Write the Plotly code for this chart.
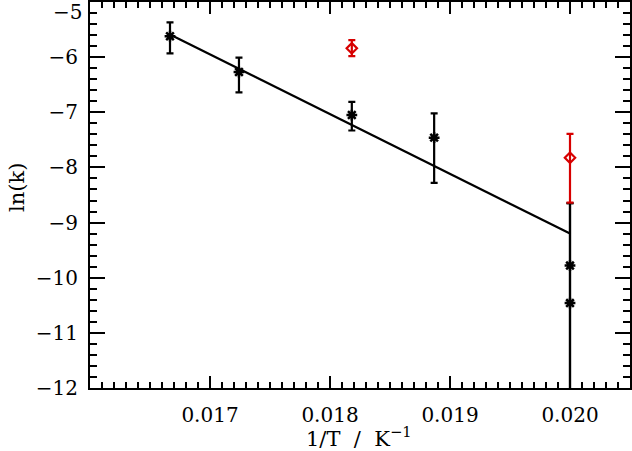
import plotly.graph_objects as go

# Black data (measured)
x_black = [1/60, 1/58, 1/55, 1/53, 1/50, 1/50]
y_black = [-5.62, -6.27, -7.05, -7.46, -9.78, -10.46]
err_black_plus = [0.25, 0.26, 0.24, 0.44, 1.13, 1.81]
err_black_minus = [0.31, 0.37, 0.28, 0.82, 2.5, 1.81]

# Red data
x_red = [1/55, 1/50]
y_red = [-5.84, -7.825]
err_red_plus = [0.15, 0.435]
err_red_minus = [0.14, 0.815]

# Linear fit endpoints
fit_x = [1/60, 1/50]
fit_y = [-5.59, -9.20]

x_range = [0.016, 0.0205]
y_range = [-12, -5]
x_ticks = [0.017, 0.018, 0.019, 0.020]
x_ticklabels = ["0.017", "0.018", "0.019", "0.020"]
y_ticks = [-12, -11, -10, -9, -8, -7, -6, -5]
y_ticklabels = ["\u221212", "\u221211", "\u221210", "\u22129", "\u22128", "\u22127", "\u22126", "\u22125"]

FONT = "DejaVu Serif"
RED = "rgb(215,0,0)"

W, H = 632, 451
ML, MR, MT, MB = 90, 2, 2, 63
PW, PH = W - ML - MR, H - MT - MB

fig = go.Figure()
fig.add_trace(go.Scatter(x=fit_x, y=fit_y, mode="lines",
                         line=dict(color="black", width=2.2), hoverinfo="skip"))
fig.add_trace(go.Scatter(
    x=x_black, y=y_black, mode="markers",
    marker=dict(symbol="asterisk-open", size=9, color="black",
                line=dict(color="black", width=2.5)),
    error_y=dict(type="data", array=err_black_plus, arrayminus=err_black_minus,
                 color="black", thickness=2.2, width=3.5)))
fig.add_trace(go.Scatter(
    x=x_red, y=y_red, mode="markers",
    marker=dict(symbol="diamond-open", size=8, color=RED,
                line=dict(color=RED, width=2.2)),
    error_y=dict(type="data", array=err_red_plus, arrayminus=err_red_minus,
                 color=RED, thickness=2.2, width=3.5)))

axis_common = dict(showgrid=False, zeroline=False, showline=True, linecolor="black",
                   linewidth=2, mirror="allticks", ticks="inside", tickcolor="black",
                   tickwidth=2, automargin=False,
                   tickfont=dict(family=FONT, size=20, color="black"))

fig.update_xaxes(range=x_range, tickvals=x_ticks, ticktext=x_ticklabels, ticklen=12,
                 minor=dict(dtick=0.0001, tick0=0.016, ticklen=6, tickwidth=2,
                            ticks="inside", tickcolor="black"),
                 ticklabelstandoff=8, **axis_common)
# top label (-5) sits on the top frame; drawn as annotation, nudged down to stay inside the page
fig.update_yaxes(range=y_range, tickvals=y_ticks[:-1], ticktext=y_ticklabels[:-1], ticklen=15,
                 minor=dict(dtick=0.2, tick0=-12, ticklen=7, tickwidth=2,
                            ticks="inside", tickcolor="black"),
                 ticklabelstandoff=6, **axis_common)
fig.add_annotation(text=y_ticklabels[-1], xref="paper", yref="paper",
                   x=(84 - ML) / PW, y=(H - MB - 12) / PH, xanchor="right", yanchor="middle",
                   showarrow=False, font=dict(family=FONT, size=20, color="black"))

NB = "\u00a0"
fig.add_annotation(text="1/T" + NB * 2 + "/" + NB * 2 + "K<sup>\u22121</sup>", xref="paper", yref="paper",
                   x=(359 - ML) / PW, y=(H - MB - 437) / PH, xanchor="center", yanchor="middle",
                   showarrow=False, font=dict(family=FONT, size=21, color="black"))
fig.add_annotation(text="ln(k)", xref="paper", yref="paper", textangle=-90,
                   x=(17 - ML) / PW, y=(H - MB - 188) / PH, xanchor="center", yanchor="middle",
                   showarrow=False, font=dict(family=FONT, size=21, color="black"))

fig.update_layout(width=W, height=H, showlegend=False,
                  margin=dict(l=ML, r=MR, t=MT, b=MB),
                  paper_bgcolor="white", plot_bgcolor="white")
fig.write_html("out.html", config={"displayModeBar": False},
               post_script="document.body.style.margin='0';document.body.style.overflow='hidden';")
